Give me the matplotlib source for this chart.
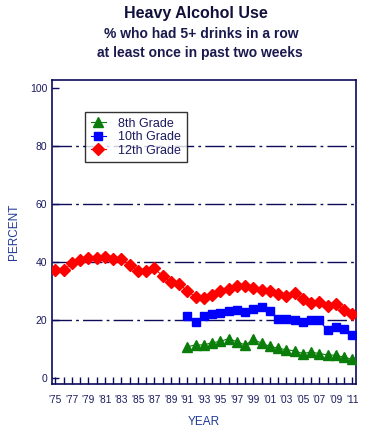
import numpy as np
import matplotlib.pyplot as plt

plt.rcParams['font.family'] = ['Liberation Sans', 'DejaVu Sans']

navy = "#0b0b5a"

years_12 = list(range(1975, 2012))
grade12 = [37.0, 37.2, 39.5, 40.5, 41.4, 41.4, 41.6, 40.8, 41.0, 38.9,
           36.8, 36.9, 37.7, 35.1, 33.1, 32.4, 29.8, 27.9, 27.5, 28.4,
           29.8, 30.5, 31.5, 31.7, 31.0, 30.2, 29.8, 28.9, 28.2, 29.4,
           27.2, 25.9, 26.2, 24.8, 25.5, 23.3, 21.9]

years_8_10 = list(range(1991, 2012))
grade10 = [21.3, 19.1, 21.3, 22.1, 22.4, 23.0, 23.3, 22.5, 23.6, 24.3,
           23.0, 20.4, 20.1, 19.9, 19.2, 19.9, 19.8, 16.3, 17.6, 16.7, 14.8]
grade8 = [10.7, 11.3, 11.3, 12.1, 12.5, 13.5, 12.4, 11.3, 13.2, 11.9,
          10.8, 10.2, 9.6, 9.3, 8.3, 8.9, 8.3, 7.9, 7.7, 7.1, 6.3]

tick_years = list(range(1975, 2012, 2))
tick_labels = ["'%02d" % (y % 100) for y in tick_years]

fig = plt.figure(figsize=(3.8, 4.33), dpi=100)
ax = fig.add_axes([0.137, 0.113, 0.8, 0.702])

for yv in [20, 40, 60, 80]:
    ax.axhline(yv, color=navy, lw=1.0, dashes=(14, 3, 2, 3), zorder=1)

h8, = ax.plot(years_8_10, grade8, color="#0a7d0a", lw=0.8, marker="^",
              ms=6.5, mec="#0a7d0a", label="8th Grade", zorder=3)
h10, = ax.plot(years_8_10, grade10, color="#0000ff", lw=0.8, marker="s",
               ms=6.3, mec="#0000ff", label="10th Grade", zorder=3)
h12, = ax.plot(years_12, grade12, color="#ff0000", lw=0.8, marker="D",
               ms=6, mec="#ff0000", label="12th Grade", zorder=3)

ax.set_xlim(1974.59, 2011.45)
ax.set_ylim(-2.2, 102.7)
ax.set_xticks(tick_years)
ax.set_xticklabels(tick_labels)
ax.set_xticks(range(1975, 2012), minor=True)
ax.set_yticks([0, 20, 40, 60, 80, 100])
ax.tick_params(axis="x", which="both", direction="in", length=5, width=1,
               color=navy, labelsize=7.3, labelcolor="#1a1a5e", pad=8)
ax.tick_params(axis="y", direction="in", length=5, width=1, color=navy,
               labelsize=7.5, labelcolor="#1a1a5e")
for s in ax.spines.values():
    s.set_color(navy)
    s.set_linewidth(1.2)

ax.set_ylabel("PERCENT", color="#1f3a93", fontsize=8.5, labelpad=7)
ax.set_xlabel("YEAR", color="#1f3a93", fontsize=8.5, labelpad=8)

leg = ax.legend(handles=[h8, h10, h12], loc="upper left",
                bbox_to_anchor=(0.108, 0.895), fontsize=9, numpoints=1,
                frameon=True, fancybox=False, edgecolor="black",
                handlelength=1.2, handletextpad=1.0, borderpad=0.45,
                labelspacing=0.12, labelcolor="#1a1a5e", borderaxespad=0)
leg.get_frame().set_linewidth(1.0)

fig.text(0.515, 0.968, "Heavy Alcohol Use", ha="center", va="center",
         fontsize=11.5, fontweight="bold", color="#10103a")
fig.text(0.529, 0.922, "% who had 5+ drinks in a row", ha="center",
         va="center", fontsize=10, fontweight="bold", color="#1a1a4e")
fig.text(0.527, 0.878, "at least once in past two weeks", ha="center",
         va="center", fontsize=10, fontweight="bold", color="#1a1a4e")

fig.savefig("out.png", dpi=100)
